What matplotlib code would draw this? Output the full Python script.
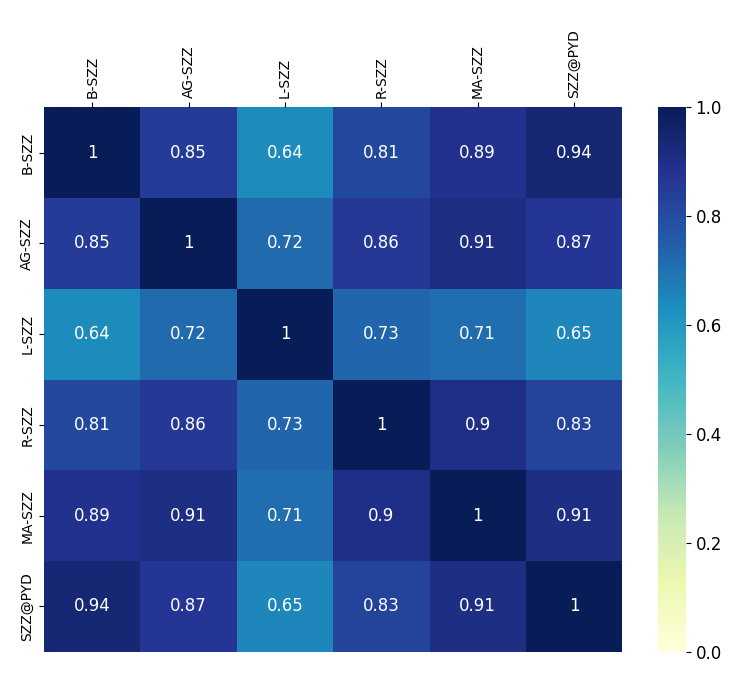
import numpy as np
import pandas as pd
import matplotlib
matplotlib.use("Agg")
import matplotlib.pyplot as plt
import seaborn as sns

labels = ["B-SZZ", "AG-SZZ", "L-SZZ", "R-SZZ", "MA-SZZ", "SZZ@PYD"]
corr = [
    [1.00, 0.85, 0.64, 0.81, 0.89, 0.94],
    [0.85, 1.00, 0.72, 0.86, 0.91, 0.87],
    [0.64, 0.72, 1.00, 0.73, 0.71, 0.65],
    [0.81, 0.86, 0.73, 1.00, 0.90, 0.83],
    [0.89, 0.91, 0.71, 0.90, 1.00, 0.91],
    [0.94, 0.87, 0.65, 0.83, 0.91, 1.00],
]

df = pd.DataFrame(corr, index=labels, columns=labels)

fig = plt.figure(figsize=(7.47, 6.79), dpi=100)
ax = fig.add_axes([0.059, 0.040, 0.774, 0.802])
cax = fig.add_axes([0.881, 0.040, 0.037, 0.802])

sns.heatmap(df, ax=ax, cbar_ax=cax, cmap="YlGnBu", vmin=0, vmax=1,
            annot=True, annot_kws={"fontsize": 12})

ax.xaxis.tick_top()
ax.set_xticklabels(labels, rotation=90, fontsize=10)
ax.set_yticklabels(labels, rotation=90, va="center", fontsize=10)
cax.tick_params(labelsize=12)

fig.savefig("out.png", dpi=100)
